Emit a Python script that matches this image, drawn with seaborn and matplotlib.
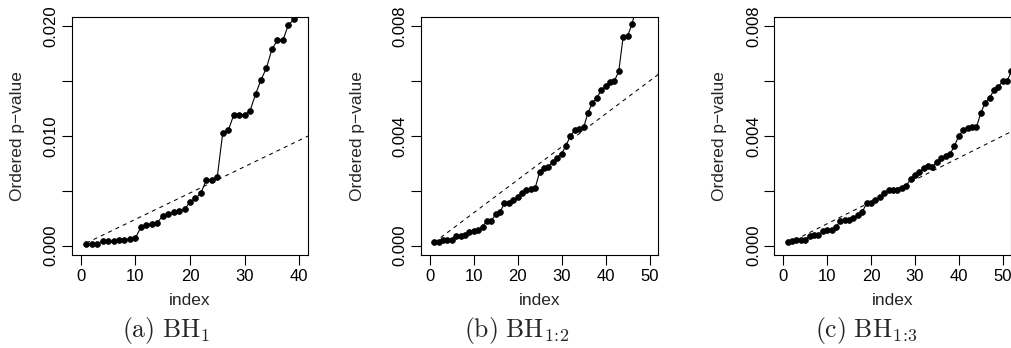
import numpy as np
import pandas as pd
import matplotlib
matplotlib.use("Agg")
import matplotlib.pyplot as plt
import seaborn as sns

# ---------------- data ----------------
p_bh1 = [0.00012, 0.00012, 0.00020, 0.00040, 0.00040, 0.00040, 0.00050, 0.00055, 0.00060, 0.00067,
         0.00170, 0.00190, 0.00200, 0.00210, 0.00270, 0.00290, 0.00310, 0.00320, 0.00330, 0.00400,
         0.00430, 0.00480, 0.00600, 0.00600, 0.00630, 0.01030, 0.01050, 0.01190, 0.01190, 0.01190,
         0.01230, 0.01380, 0.01510, 0.01620, 0.01790, 0.01870, 0.01870, 0.02010, 0.02060]
p_bh12 = [0.00013, 0.00015, 0.00022, 0.00022, 0.00022, 0.00035, 0.00035, 0.00039, 0.00051, 0.00055,
          0.00059, 0.00069, 0.00091, 0.00091, 0.00114, 0.00123, 0.00155, 0.00155, 0.00166, 0.00178,
          0.00191, 0.00203, 0.00206, 0.00212, 0.00268, 0.00283, 0.00288, 0.00306, 0.00320, 0.00335,
          0.00365, 0.00400, 0.00420, 0.00425, 0.00431, 0.00484, 0.00521, 0.00537, 0.00567, 0.00580,
          0.00597, 0.00600, 0.00635, 0.00761, 0.00764, 0.00806, 0.00870]
p_bh13 = [0.00013, 0.00016, 0.00022, 0.00022, 0.00022, 0.00036, 0.00038, 0.00038, 0.00052, 0.00056,
          0.00058, 0.00068, 0.00090, 0.00093, 0.00095, 0.00100, 0.00112, 0.00123, 0.00155, 0.00154,
          0.00166, 0.00176, 0.00191, 0.00202, 0.00202, 0.00203, 0.00212, 0.00216, 0.00244, 0.00256,
          0.00268, 0.00283, 0.00289, 0.00288, 0.00305, 0.00319, 0.00327, 0.00334, 0.00364, 0.00400,
          0.00421, 0.00427, 0.00431, 0.00431, 0.00483, 0.00521, 0.00538, 0.00567, 0.00579, 0.00599,
          0.00601, 0.00635]
bh_slopes = [0.00024, 0.00012, 0.00008]           # threshold line: index * q/m
x_limits = [(0, 40), (0, 50), (0, 50)]
y_limits = [(0, 0.020), (0, 0.008), (0, 0.008)]
x_ticks = [[0, 10, 20, 30, 40], [0, 10, 20, 30, 40, 50], [0, 10, 20, 30, 40, 50]]
y_ticks = [[0, 0.005, 0.010, 0.015, 0.020], [0, 0.002, 0.004, 0.006, 0.008], [0, 0.002, 0.004, 0.006, 0.008]]
y_ticklabels = [["0.000", "", "0.010", "", "0.020"], ["0.000", "", "0.004", "", "0.008"],
                ["0.000", "", "0.004", "", "0.008"]]
captions = [r"$\mathrm{(a)\ BH}_{1}$", r"$\mathrm{(b)\ BH}_{1\!:\!2}$", r"$\mathrm{(c)\ BH}_{1\!:\!3}$"]
x_label = "index"
y_label = "Ordered p\u2212value"
series = [p_bh1, p_bh12, p_bh13]

# ---------------- style ----------------
sns.set_style("ticks")
plt.rcParams["font.family"] = ["Liberation Sans", "DejaVu Sans"]
plt.rcParams["mathtext.fontset"] = "cm"
plt.rcParams["axes.edgecolor"] = "black"
plt.rcParams["xtick.color"] = "black"
plt.rcParams["ytick.color"] = "black"
plt.rcParams["axes.linewidth"] = 0.8

W, H = 1012, 348
fig = plt.figure(figsize=(W / 100, H / 100), dpi=100)

# axes boxes in pixels: left, right, top, bottom
boxes = [(72.0, 308.0), (421.0, 658.3), (774.5, 1011.5)]
top_px, bot_px = 17.3, 254.5
ylab_x = [18.0, 358.0, 720.0]
cap_x = [166.7, 516.5, 866.5]

for k in range(3):
    l, r = boxes[k]
    ax = fig.add_axes([l / W, 1 - bot_px / H, (r - l) / W, (bot_px - top_px) / H])
    vals = series[k]
    idx = np.arange(1, len(vals) + 1)
    df = pd.DataFrame({"index": idx, "p": vals})
    sns.lineplot(data=df, x="index", y="p", ax=ax, color="black", linewidth=0.8,
                 marker="o", markersize=4.2, markeredgecolor="black", markeredgewidth=0.5)
    lx = np.arange(1, 61)
    sns.lineplot(x=lx, y=bh_slopes[k] * lx, ax=ax, color="black", linewidth=0.75,
                 linestyle=(0, (3.9, 3.9)))
    x0, x1 = x_limits[k]
    dx = 0.04 * (x1 - x0)
    ax.set_xlim(x0 - dx, x1 + dx)
    y0, y1 = y_limits[k]
    dy = 0.04 * (y1 - y0)
    ax.set_ylim(y0 - dy, y1 + dy)
    ax.set_xticks(x_ticks[k])
    ax.set_xticklabels([str(t) for t in x_ticks[k]])
    ax.set_yticks(y_ticks[k])
    ax.set_yticklabels(y_ticklabels[k], rotation=90, va="center")
    ax.tick_params(axis="both", direction="out", length=7.5, width=0.8, labelsize=12)
    ax.tick_params(axis="x", pad=3.2)
    ax.tick_params(axis="y", pad=2.0)
    for s in ax.spines.values():
        s.set_visible(True)
        s.set_linewidth(0.8)
    ax.set_xlabel("")
    ax.set_ylabel("")
    # axis labels (fig pixel coordinates)
    fig.text(((l + r) / 2) / W, 1 - 305 / H, x_label, ha="center", va="baseline", fontsize=12.5)
    fig.text(ylab_x[k] / W, 1 - ((top_px + bot_px) / 2) / H, y_label, rotation=90,
             ha="center", va="center", fontsize=12.5)
    fig.text(cap_x[k] / W, 1 - 337 / H, captions[k], ha="center", va="baseline", fontsize=18.5)

fig.savefig("out.png", dpi=100)
